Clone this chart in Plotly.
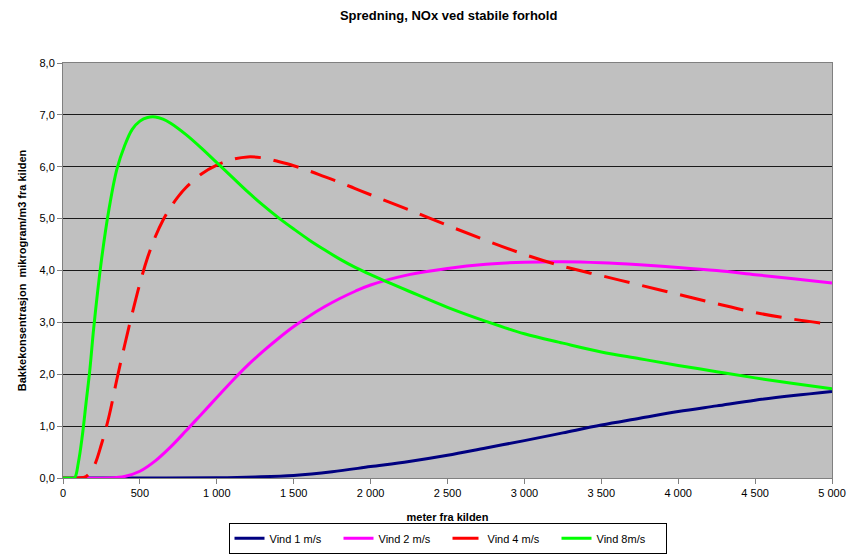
import plotly.graph_objects as go

# Distance from the source (m) and ground-level concentration (µg/m3) per wind speed
dist_v1 = [0, 500, 1000, 1250, 1500, 1750, 2000, 2250, 2500, 2750, 3000, 3250, 3500,
           3750, 4000, 4250, 4500, 4750, 5000]
conc_v1 = [0.0, 0.0, 0.005, 0.02, 0.05, 0.12, 0.22, 0.32, 0.44, 0.58, 0.72, 0.87, 1.02,
           1.15, 1.28, 1.39, 1.50, 1.59, 1.67]

dist_v2 = [0, 300, 400, 500, 600, 700, 800, 900, 1000, 1100, 1200, 1300, 1400, 1500,
           1600, 1700, 1800, 1900, 2000, 2250, 2500, 2750, 3000, 3250, 3500, 3750, 4000,
           4250, 4500, 4750, 5000]
conc_v2 = [0.0, 0.0, 0.03, 0.13, 0.33, 0.60, 0.91, 1.23, 1.55, 1.87, 2.17, 2.44, 2.69, 2.92,
           3.12, 3.30, 3.46, 3.60, 3.72, 3.92, 4.04, 4.12, 4.16, 4.17, 4.15, 4.11, 4.06,
           4.0, 3.92, 3.84, 3.76]

dist_v4 = [0, 100, 150, 200, 250, 300, 350, 400, 450, 500, 550, 600, 650, 700, 750, 800,
           900, 1000, 1100, 1200, 1300, 1400, 1500, 1600, 1700, 1800, 1900, 2000, 2250, 2500,
           2750, 3000, 3250, 3500, 3750, 4000, 4250, 4500, 4750, 5000]
conc_v4 = [0.0, 0.0, 0.03, 0.22, 0.65, 1.2, 1.9, 2.55, 3.17, 3.75, 4.25, 4.65, 4.97, 5.22,
           5.43, 5.6, 5.86, 6.03, 6.14, 6.19, 6.17, 6.1, 6.02, 5.92, 5.81, 5.70, 5.58, 5.46,
           5.17, 4.87, 4.58, 4.31, 4.08, 3.90, 3.72, 3.54, 3.36, 3.19, 3.06, 2.96]

dist_v8 = [0, 50, 75, 100, 125, 150, 175, 200, 250, 300, 350, 400, 450, 500, 550, 600, 650,
           700, 800, 900, 1000, 1100, 1200, 1300, 1400, 1500, 1600, 1700, 1800, 1900, 2000,
           2250, 2500, 2750, 3000, 3250, 3500, 3750, 4000, 4250, 4500, 4750, 5000]
conc_v8 = [0.0, 0.0, 0.0, 0.3, 0.8, 1.45, 2.1, 2.9, 4.2, 5.2, 5.95, 6.4, 6.72, 6.88, 6.95,
           6.96, 6.92, 6.84, 6.62, 6.36, 6.08, 5.80, 5.52, 5.26, 5.02, 4.80, 4.59, 4.40, 4.22,
           4.06, 3.92, 3.60, 3.29, 3.02, 2.78, 2.60, 2.43, 2.30, 2.17, 2.05, 1.93, 1.82, 1.72]

series = [
    ("Vind 1 m/s", dist_v1, conc_v1, "#000080", "solid"),
    ("Vind 2 m/s", dist_v2, conc_v2, "#FF00FF", "solid"),
    ("Vind 4 m/s", dist_v4, conc_v4, "#FF0000", "26px,13px"),
    ("Vind 8m/s", dist_v8, conc_v8, "#00FF00", "solid"),
]

FONT = "Liberation Sans, Arial, sans-serif"

fig = go.Figure()
for name, x, y, color, dash in series:
    fig.add_trace(go.Scatter(
        x=x, y=y, name=name, mode="lines",
        line=dict(color=color, width=3, dash=dash, shape="spline", smoothing=1.0),
    ))

fig.update_layout(
    width=853, height=554,
    margin=dict(l=63, r=21, t=63, b=76, autoexpand=False),
    paper_bgcolor="white",
    plot_bgcolor="#C0C0C0",
    separators=", ",
    font=dict(family=FONT, size=11, color="#000000"),
    title=dict(
        text="<b>Spredning, NOx ved stabile forhold</b>",
        x=0.526, xanchor="center", y=0.972, yanchor="middle",
        font=dict(family=FONT, size=13, color="#000000"),
    ),
    showlegend=True,
    legend=dict(
        orientation="h", x=0.5, xanchor="center", y=-0.108, yanchor="top",
        bordercolor="#000000", borderwidth=1, bgcolor="white",
        font=dict(family=FONT, size=11, color="#000000"),
        itemwidth=30, entrywidth=64, traceorder="normal",
    ),
)

fig.update_xaxes(
    range=[0, 5000], dtick=500, tick0=0, tickformat=",d",
    showgrid=False, zeroline=False, automargin=False,
    showline=True, linecolor="#808080", linewidth=1, mirror=True,
    ticks="outside", ticklen=5, tickcolor="#808080",
    tickfont=dict(family=FONT, size=11, color="#000000"),
    title=dict(text="<b>meter fra kilden</b>", standoff=15,
               font=dict(family=FONT, size=11, color="#000000")),
)
fig.update_yaxes(
    range=[0, 8], dtick=1, tick0=0, tickformat=".1f",
    showgrid=True, gridcolor="#1a1a1a", gridwidth=1, zeroline=False, automargin=False,
    showline=True, linecolor="#808080", linewidth=1, mirror=True,
    ticks="outside", ticklen=5, tickcolor="#808080",
    tickfont=dict(family=FONT, size=11, color="#000000"),
    title=dict(text="<b>Bakkekonsentrasjon  mikrogram/m3 fra kilden</b>", standoff=10,
               font=dict(family=FONT, size=11, color="#000000")),
)

fig.write_html("out.html")
